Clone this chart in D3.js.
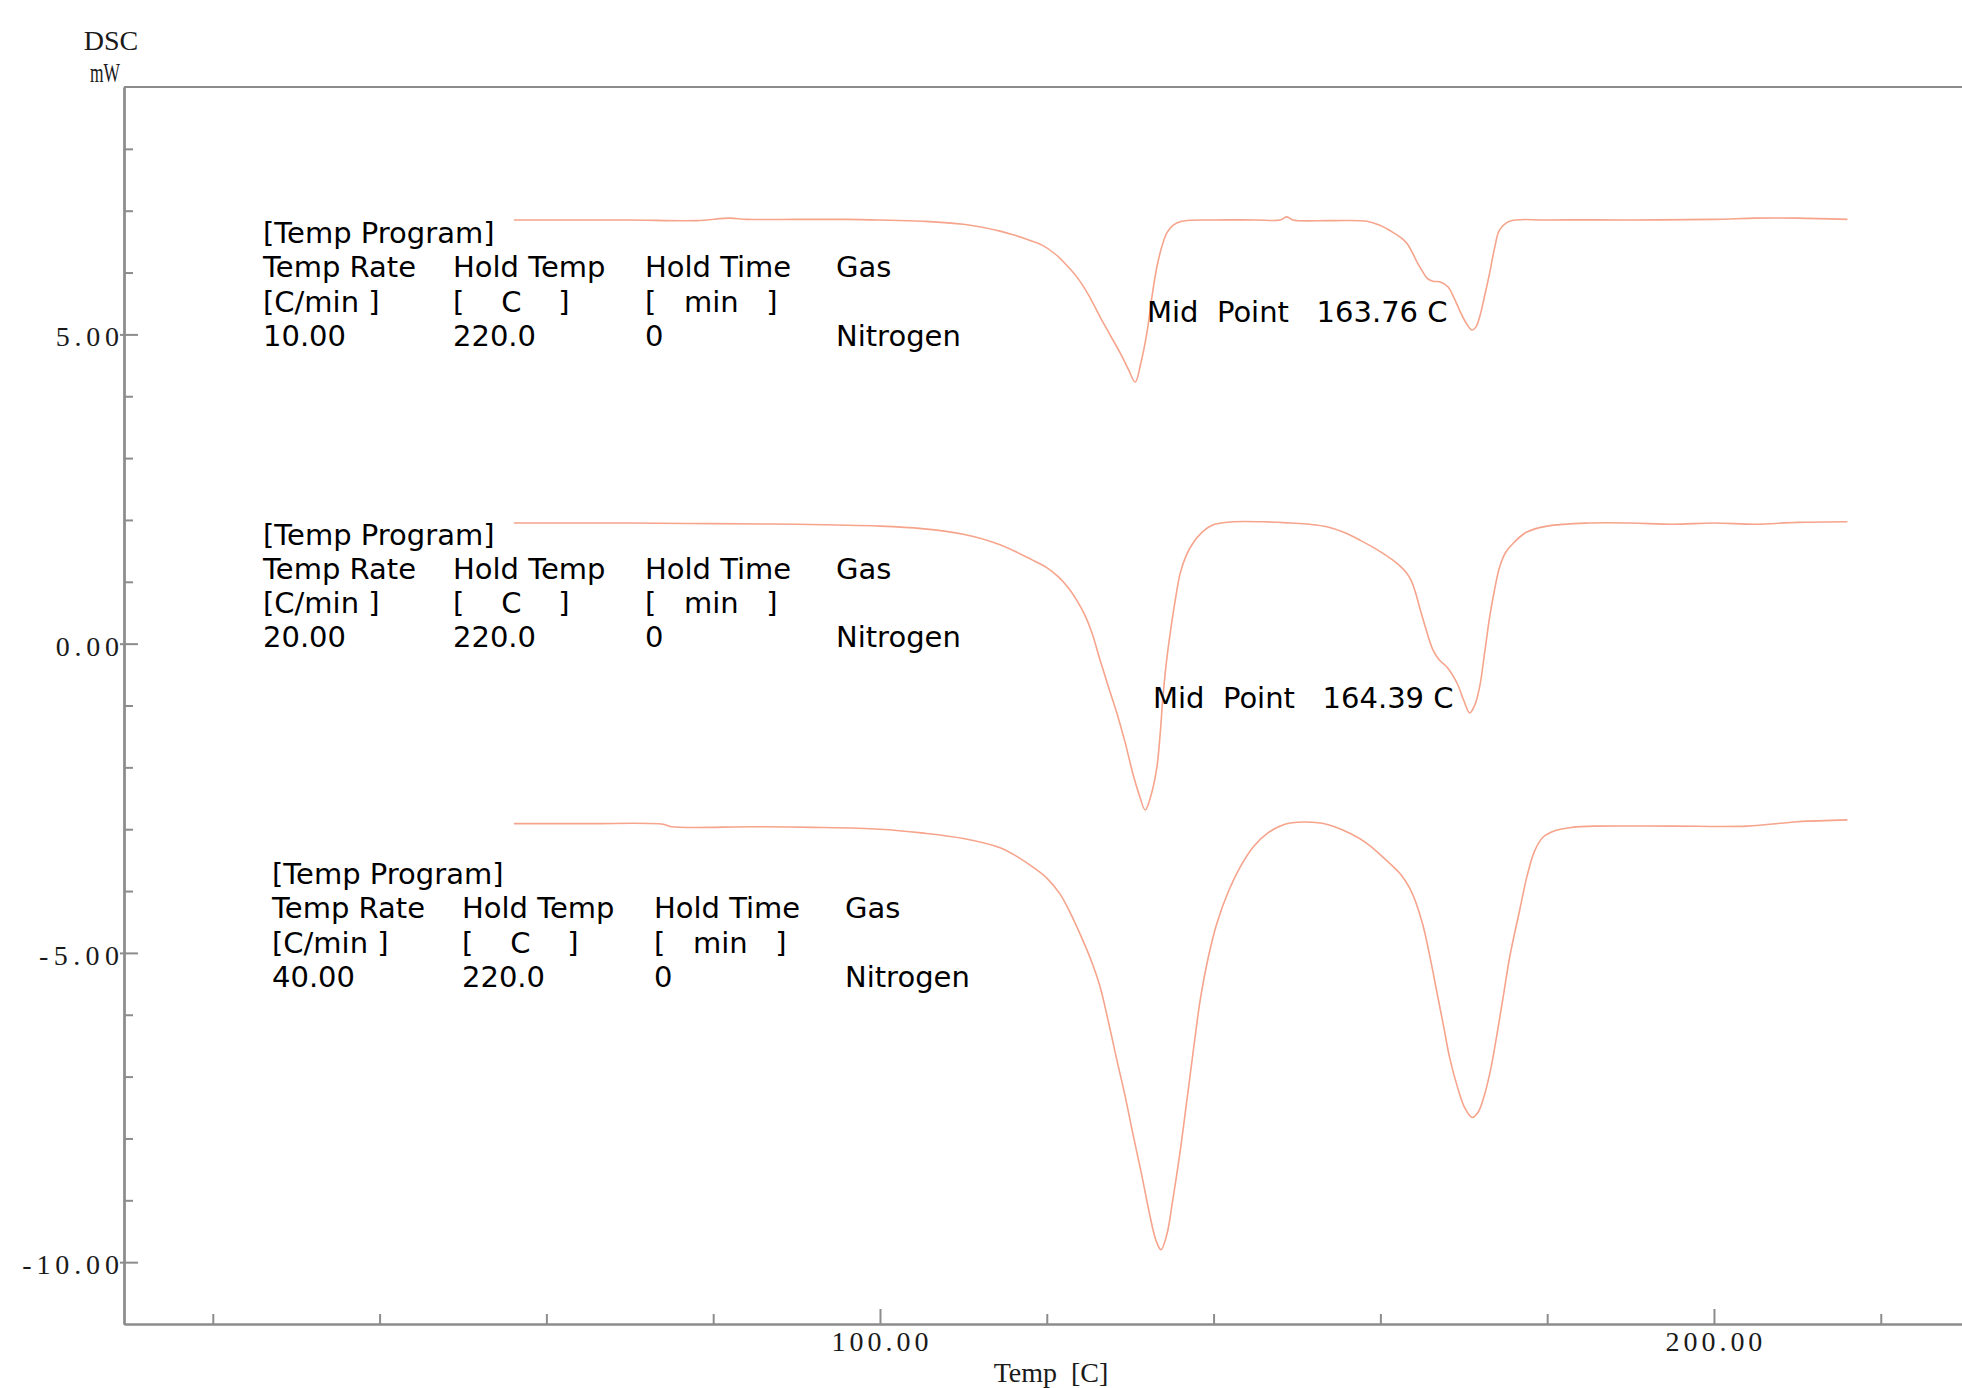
<!DOCTYPE html>
<html lang="en">
<head>
<meta charset="utf-8">
<title>DSC - Temp Program</title>
<script src="https://d3js.org/d3.v7.min.js"></script>
<style>
    body { margin: 0; background: #fff; }
    .axis path, .axis line { stroke: #8c8c8c; stroke-width: 2; }
    .axis text { display: none; }
    .serif { font-family: "Liberation Serif", serif; font-size: 28px; fill: #1a1a1a; }
    .prog { font-family: "DejaVu Sans", sans-serif; font-size: 29px; fill: #000; white-space: pre; }
    .trace { fill: none; stroke: #f6a48c; stroke-width: 1.6; }
</style>
</head>
<body>
<script>

// ---- data ----
// x: Temp [C], y: DSC [mW]
const trace10 = [
    [56.1, 6.85], [62, 6.85], [70, 6.85], [78, 6.84], [82, 6.88], [84, 6.86], [90, 6.86], [96, 6.86],
    [100, 6.85], [105, 6.83], [110, 6.78], [114.4, 6.67], [116, 6.61], [118, 6.52], [119.5, 6.44],
    [121, 6.30], [122.3, 6.13], [123.6, 5.93], [125, 5.64], [126.4, 5.28], [127.6, 4.99], [128.8, 4.70],
    [129.8, 4.43], [130.6, 4.23],
    [131.3, 4.55], [132.0, 5.02], [132.6, 5.60], [133.2, 6.09], [133.8, 6.42], [134.4, 6.64], [135.2, 6.77],
    [136.2, 6.83], [140, 6.85], [145, 6.85], [148, 6.85], [148.8, 6.90], [149.5, 6.85], [154, 6.84],
    [158.4, 6.83], [160, 6.76], [161.5, 6.65], [162.5, 6.56], [163.2, 6.47], [163.8, 6.33], [164.4, 6.17],
    [165.0, 6.03], [165.6, 5.91], [166.3, 5.86], [167.1, 5.85], [168.1, 5.77], [168.8, 5.60], [169.5, 5.39],
    [170.3, 5.18], [171.0, 5.07], [171.5, 5.13], [171.9, 5.28], [172.5, 5.62], [173.1, 5.99], [173.7, 6.40],
    [174.3, 6.69], [175.5, 6.83], [180, 6.85], [190, 6.85], [200, 6.86], [205, 6.88], [210, 6.88], [216, 6.86]
];
const trace20 = [
    [56.1, 1.95], [70, 1.95], [80, 1.94], [90, 1.93], [100, 1.90], [105, 1.86], [110, 1.77], [114.4, 1.60],
    [118.3, 1.35], [120, 1.23], [121.4, 1.08], [122.6, 0.90], [123.6, 0.70], [124.5, 0.48], [125.4, 0.18],
    [126.4, -0.27], [127.4, -0.70],
    [128.4, -1.12], [129.4, -1.60], [130.3, -2.09], [131.1, -2.45], [131.8, -2.69], [132.5, -2.45], [133.2, -2.0],
    [133.6, -1.45], [133.9, -0.91], [134.3, -0.35], [134.8, 0.17], [135.4, 0.70], [136.0, 1.14], [136.7, 1.42],
    [137.5, 1.62], [138.6, 1.80], [139.9, 1.92], [142.3, 1.97], [146, 1.97], [149.2, 1.95], [151.5, 1.93],
    [153.6, 1.89], [155.6, 1.80], [157.6, 1.67], [159.6, 1.52], [161.5, 1.35], [162.4, 1.25], [163.1, 1.15],
    [163.7, 1.02], [164.2, 0.83], [164.7, 0.59], [165.5, 0.22], [166.3, -0.10], [167.1, -0.27], [168.0, -0.38],
    [169.2, -0.64], [170.0, -0.92], [170.7, -1.12], [171.3, -1.00], [171.9, -0.70], [172.5, -0.15], [173.1, 0.43],
    [173.7, 0.88], [174.3, 1.24], [175.0, 1.47], [175.9, 1.62], [177.5, 1.80], [180, 1.90], [185, 1.95],
    [190, 1.95], [195, 1.93], [200, 1.95], [205, 1.93], [210, 1.96], [216, 1.97]
];
const trace40 = [
    [56.1, -2.91], [65, -2.91], [74, -2.92], [75, -2.96], [85, -2.96], [92, -2.97], [100, -3.00], [105, -3.06],
    [110, -3.15], [114.4, -3.30], [116.4, -3.44], [118.3, -3.61], [120, -3.79], [121.6, -4.05], [122.8, -4.35],
    [124.3, -4.79], [125.4, -5.15],
    [126.4, -5.55], [127.4, -6.12], [128.4, -6.73], [129.4, -7.32], [130.3, -7.91], [131.4, -8.60], [132.4, -9.27],
    [133.1, -9.65], [133.7, -9.80], [134.4, -9.55], [135.1, -9.0], [136.0, -8.2], [136.8, -7.38], [137.6, -6.55],
    [138.4, -5.76], [139.4, -5.05], [140.4, -4.52], [141.8, -4.00], [143.2, -3.61], [144.8, -3.28], [146.4, -3.07],
    [148, -2.95], [149.2, -2.90], [152.8, -2.90], [154.5, -2.96], [156.4, -3.07], [158.3, -3.22], [160.3, -3.45],
    [161.5, -3.60], [162.5, -3.74], [163.5, -3.95], [164.3, -4.20], [165.1, -4.55], [166.0, -5.10], [166.8, -5.65],
    [167.6, -6.20], [168.3, -6.69], [169.2, -7.15], [170.1, -7.50], [171.0, -7.66], [171.7, -7.58], [172.3, -7.38],
    [173.2, -6.90], [174.0, -6.30], [174.8, -5.65], [175.5, -5.07], [176.7, -4.31], [177.6, -3.75], [178.5, -3.35],
    [179.5, -3.13], [181, -3.02], [183, -2.97], [186, -2.95], [195, -2.95], [204, -2.95], [210, -2.88], [216, -2.85]
];

// axis ticks
const xMajorTicks = [100, 200];
const xMajorLabels = ["100.00", "200.00"];
const xMinorTicks = [20, 40, 60, 80, 120, 140, 160, 180, 220];
const yMajorTicks = [5, 0, -5, -10];
const yMajorLabels = ["5.00", "0.00", "-5.00", "-10.00"];
const yMinorTicks = [8, 7, 6, 4, 3, 2, 1, -1, -2, -3, -4, -6, -7, -8, -9];

// temp program tables
const progTitle = "[Temp Program]";
const progHeads = ["Temp Rate", "Hold Temp", "Hold Time", "Gas"];
const progUnits = ["[C/min ]", "[    C    ]", "[   min   ]", ""];
const rates = ["10.00", "20.00", "40.00"];
const holdTemps = ["220.0", "220.0", "220.0"];
const holdTimes = ["0", "0", "0"];
const gases = ["Nitrogen", "Nitrogen", "Nitrogen"];
const midPoints = ["163.76", "164.39"];

// ---- layout ----
const w = 1962;
const h = 1388;
const plotLeft = 124, plotTop = 87, plotBottom = 1324;

const svg = d3.select("body").append("svg")
    .attr("width", w)
    .attr("height", h);

const xScale = d3.scaleLinear()
    .domain([9.353, 229.74])
    .range([plotLeft, w]);

const yScale = d3.scaleLinear()
    .domain([-11, 9])
    .range([plotBottom, plotTop]);

// top frame line
svg.append("line")
    .attr("x1", xScale(9.353)).attr("x2", w)
    .attr("y1", yScale(9)).attr("y2", yScale(9))
    .attr("stroke", "#8c8c8c").attr("stroke-width", 2);

// y axis: minor ticks inward, major ticks crossing
svg.append("g").attr("class", "axis")
    .attr("transform", "translate(" + plotLeft + ",0)")
    .call(d3.axisLeft(yScale).tickValues(yMinorTicks).tickSize(-9).tickSizeOuter(0));
svg.append("g").attr("class", "axis")
    .attr("transform", "translate(" + plotLeft + ",0)")
    .call(d3.axisLeft(yScale).tickValues(yMajorTicks).tickSize(-14).tickSizeOuter(0));
svg.append("g").attr("class", "axis")
    .attr("transform", "translate(" + plotLeft + ",0)")
    .call(d3.axisLeft(yScale).tickValues(yMajorTicks).tickSize(4).tickSizeOuter(0));

// x axis: ticks pointing up
svg.append("g").attr("class", "axis")
    .attr("transform", "translate(0," + plotBottom + ")")
    .call(d3.axisBottom(xScale).tickValues(xMinorTicks).tickSize(-10).tickSizeOuter(0));
svg.append("g").attr("class", "axis")
    .attr("transform", "translate(0," + plotBottom + ")")
    .call(d3.axisBottom(xScale).tickValues(xMajorTicks).tickSize(-15).tickSizeOuter(0));

// tick labels, spaced like a fixed-pitch font
svg.selectAll(".ylab")
    .data(yMajorTicks)
    .join("text")
    .attr("class", "serif ylab")
    .attr("x", plotLeft - 5)
    .attr("y", d => yScale(d) + 12)
    .attr("text-anchor", "end")
    .attr("textLength", (d, i) => yMajorLabels[i].length * 16.8 - 4)
    .attr("lengthAdjust", "spacing")
    .text((d, i) => yMajorLabels[i]);

svg.selectAll(".xlab")
    .data(xMajorTicks)
    .join("text")
    .attr("class", "serif xlab")
    .attr("x", d => xScale(d))
    .attr("y", plotBottom + 27)
    .attr("text-anchor", "middle")
    .attr("textLength", (d, i) => xMajorLabels[i].length * 16.8 - 4)
    .attr("lengthAdjust", "spacing")
    .text((d, i) => xMajorLabels[i]);

// axis titles
svg.append("text").attr("class", "serif")
    .attr("x", 111).attr("y", 50)
    .attr("text-anchor", "middle")
    .text("DSC");
svg.append("text").attr("class", "serif")
    .attr("x", 90).attr("y", 82)
    .style("font-size", "27px")
    .attr("textLength", 30).attr("lengthAdjust", "spacingAndGlyphs")
    .text("mW");
svg.append("text").attr("class", "serif")
    .attr("x", 1051).attr("y", 1382)
    .attr("text-anchor", "middle")
    .style("white-space", "pre")
    .text("Temp  [C]");

// traces
const line = d3.line()
    .x(d => xScale(d[0]))
    .y(d => yScale(d[1]))
    .curve(d3.curveCatmullRom.alpha(0.5));

svg.selectAll(".trace")
    .data([trace10, trace20, trace40])
    .join("path")
    .attr("class", "trace")
    .attr("d", line);

// temp program text blocks
const blockPos = [[263, 243], [263, 544.5], [272, 884]];
const colX = [0, 190, 382, 573];
const rowH = 34.3;

rates.forEach((r, i) => {
    const g = svg.append("g")
        .attr("transform", "translate(" + blockPos[i][0] + "," + blockPos[i][1] + ")");
    const rows = [
        [progTitle],
        progHeads,
        progUnits,
        [r, holdTemps[i], holdTimes[i], gases[i]]
    ];
    rows.forEach((row, ri) => {
        row.forEach((t, ci) => {
            g.append("text")
                .attr("class", "prog")
                .attr("x", colX[ci])
                .attr("y", ri * rowH)
                .text(t);
        });
    });
});

// mid point labels
const midPos = [[1147, 322], [1153, 708]];
midPoints.forEach((m, i) => {
    svg.append("text")
        .attr("class", "prog")
        .attr("x", midPos[i][0])
        .attr("y", midPos[i][1])
        .text("Mid  Point   " + m + " C");
});

</script>
</body>
</html>
